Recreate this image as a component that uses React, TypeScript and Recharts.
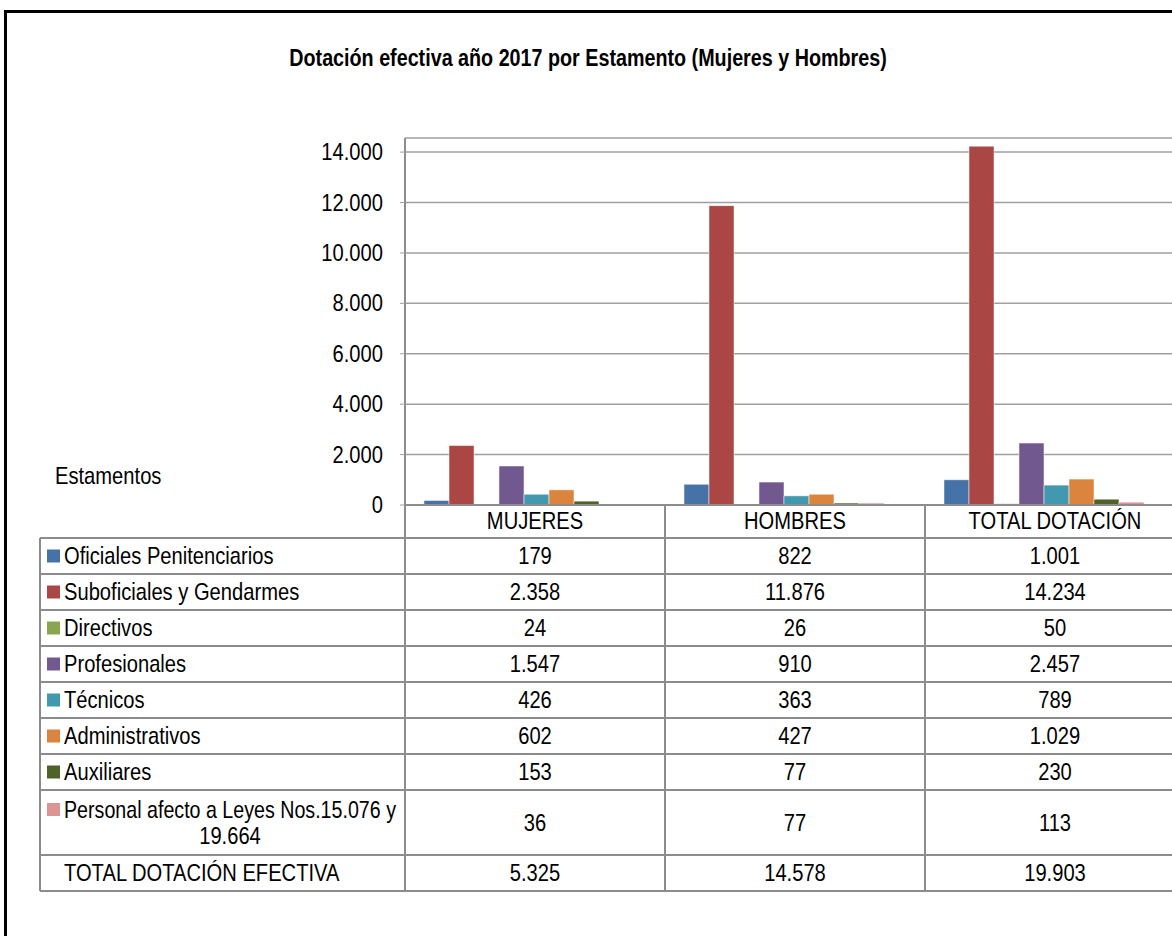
import { BarChart, Bar, XAxis, YAxis, CartesianGrid } from "recharts"

const categorias = ["MUJERES", "HOMBRES", "TOTAL DOTACIÓN"]
const estamentos = [
  "Oficiales Penitenciarios",
  "Suboficiales y Gendarmes",
  "Directivos",
  "Profesionales",
  "Técnicos",
  "Administrativos",
  "Auxiliares",
  "Personal afecto a Leyes Nos.15.076 y\n19.664",
]
const colores = ["#4572A7", "#AA4643", "#89A54E", "#71588F", "#4198AF", "#DB843D", "#4F6228", "#D99694"]
const mujeres = [179, 2358, 24, 1547, 426, 602, 153, 36]
const hombres = [822, 11876, 26, 910, 363, 427, 77, 77]
const totales = [1001, 14234, 50, 2457, 789, 1029, 230, 113]
const totalDotacion = [5325, 14578, 19903]
const yTicks = [0, 2000, 4000, 6000, 8000, 10000, 12000, 14000]

const fmt = (n: number) => String(n).replace(/\B(?=(\d{3})+(?!\d))/g, ".")

const series = [mujeres, hombres, totales]
const data = categorias.map((cat, i) => {
  const row: Record<string, string | number> = { cat, total: totalDotacion[i] }
  series[i].forEach((v, j) => (row["s" + j] = v))
  return row
})

// layout
const FONT = "'Liberation Sans', Arial, sans-serif"
const NARROW = 0.84 // no Arial Narrow here, squeeze Liberation Sans instead
const FS = 24
const PLOT_L = 405
const PLOT_R = 1185
const PLOT_B = 505
const GRID = "#a0a0a0"
const LINE = "#8c8c8c"
const TABLE_TOP = 538
const rowHeights = [36, 36, 36, 36, 36, 36, 36, 65, 36]

function NText({ x, y, anchor = "start", children, size = FS, bold = false, dy, fit }: any) {
  return (
    <text
      transform={`translate(${x},${y}) scale(${NARROW},1)`}
      textAnchor={anchor}
      dominantBaseline={dy ? undefined : "central"}
      dy={dy}
      fontFamily={FONT}
      fontSize={size}
      fontWeight={bold ? "bold" : "normal"}
      fill="#000"
      textLength={fit ? fit / NARROW : undefined}
      lengthAdjust={fit ? "spacingAndGlyphs" : undefined}
    >
      {children}
    </text>
  )
}

const YTick = (p: any) => <NText x={p.x} y={p.y} anchor="end">{fmt(p.payload.value)}</NText>
const XTick = (p: any) => <NText x={p.x} y={p.y} anchor="middle" dy="0.71em">{p.payload.value}</NText>

function Tabla() {
  const colW = (PLOT_R - PLOT_L) / categorias.length
  const tops: number[] = []
  let y = TABLE_TOP
  rowHeights.forEach((h) => {
    tops.push(y)
    y += h
  })
  const bottom = y
  const filas = [
    ...estamentos.map((label, j) => ({ label, color: colores[j], vals: series.map((s) => s[j]) })),
    { label: "TOTAL DOTACIÓN EFECTIVA", color: null as string | null, vals: totalDotacion },
  ]
  return (
    <svg width={1172} height={936} style={{ position: "absolute", left: 0, top: 0, pointerEvents: "none" }}>
      <NText x={588} y={58} anchor="middle" size={23.5} bold>
        Dotación efectiva año 2017 por Estamento (Mujeres y Hombres)
      </NText>
      <NText x={55} y={476}>Estamentos</NText>
      {[...tops, bottom].map((ty, i) => (
        <line key={"h" + i} x1={40} x2={1190} y1={ty} y2={ty} stroke={LINE} strokeWidth={2} />
      ))}
      <line x1={40} x2={40} y1={TABLE_TOP} y2={bottom} stroke={LINE} strokeWidth={2} />
      {[0, 1, 2, 3].map((k) => (
        <line key={"v" + k} x1={PLOT_L + k * colW} x2={PLOT_L + k * colW} y1={PLOT_B} y2={bottom} stroke={LINE} strokeWidth={2} />
      ))}
      {filas.map((f, i) => {
        const cy = tops[i] + rowHeights[i] / 2
        const lines = f.label.split("\n")
        return (
          <g key={"r" + i}>
            {f.color && <rect x={47} y={(lines.length > 1 ? cy - 13 : cy) - 6.5} width={13} height={13} fill={f.color} />}
            {lines.length === 1 ? (
              <NText x={64} y={cy}>{f.label}</NText>
            ) : (
              <>
                <NText x={64} y={cy - 13} fit={332}>{lines[0]}</NText>
                <NText x={230} y={cy + 13} anchor="middle">{lines[1]}</NText>
              </>
            )}
            {f.vals.map((v, k) => (
              <NText key={k} x={PLOT_L + colW * (k + 0.5)} y={cy} anchor="middle">
                {fmt(v)}
              </NText>
            ))}
          </g>
        )
      })}
    </svg>
  )
}

export default function App() {
  return (
    <div
      style={{
        position: "fixed", left: 0, top: 0, width: 1172, height: 936,
        overflow: "hidden", background: "#fff", fontFamily: FONT,
      }}
    >
      <div
        style={{
          position: "absolute", left: 4, top: 10, width: 1300, height: 1100,
          border: "3px solid #000", boxSizing: "border-box",
        }}
      />
      <div style={{ position: "absolute", left: 0, top: 0 }}>
        <BarChart
          width={1190}
          height={540}
          data={data}
          margin={{ top: 138, right: 5, bottom: 5, left: 345 }}
          barCategoryGap={19}
          barGap={0}
        >
          <CartesianGrid vertical={false} stroke={GRID} strokeWidth={1.5} />
          <XAxis
            dataKey="cat"
            height={30}
            tickLine={false}
            tickSize={0}
            tickMargin={7}
            axisLine={{ stroke: LINE, strokeWidth: 2 }}
            tick={XTick}
          />
          <YAxis
            width={60}
            domain={[0, 14560]}
            ticks={yTicks}
            allowDataOverflow
            interval={0}
            tickSize={5}
            tickMargin={17}
            tickLine={{ stroke: GRID }}
            axisLine={{ stroke: LINE, strokeWidth: 2 }}
            tick={YTick}
          />
          {estamentos.map((e, j) => (
            <Bar
              key={e}
              dataKey={"s" + j}
              name={e}
              fill={colores[j]}
              stroke="#ffffff"
              strokeOpacity={0.5}
              strokeWidth={1}
              isAnimationActive={false}
            />
          ))}
          <Bar dataKey="total" name="TOTAL DOTACIÓN EFECTIVA" fill="none" stroke="none" isAnimationActive={false} />
        </BarChart>
      </div>
      <Tabla />
    </div>
  )
}
